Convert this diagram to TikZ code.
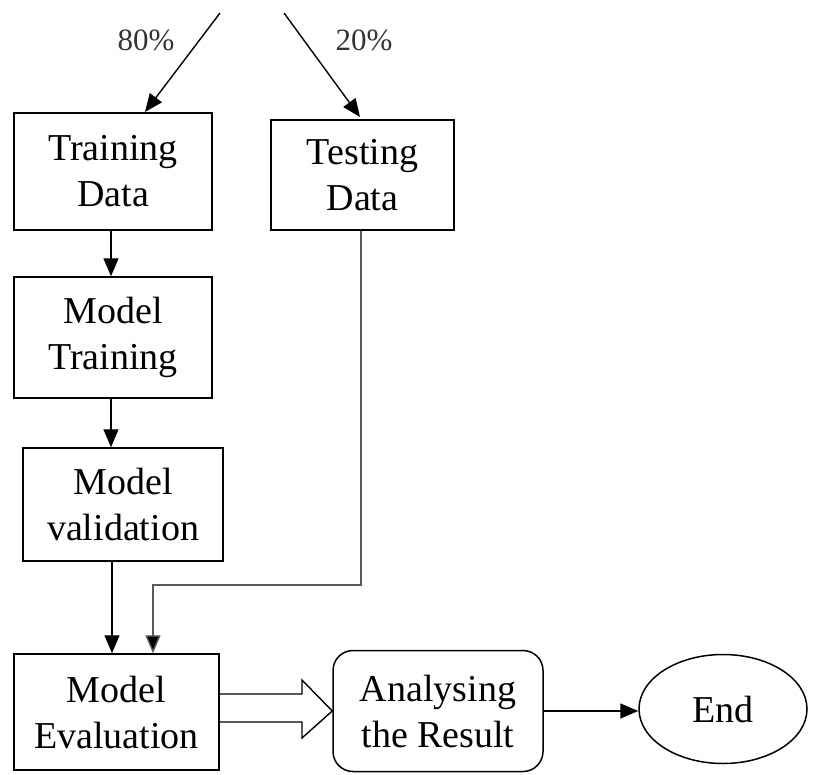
\documentclass[tikz,border=0pt]{standalone}
\usepackage{fontspec}
\setmainfont{Liberation Serif}
\usetikzlibrary{arrows.meta,calc,shapes.geometric}
\begin{document}
\begin{tikzpicture}[x=1pt,y=-1pt,
  box/.style={draw=black,line width=1.5pt,inner sep=0pt,align=center,
    font=\fontsize{38}{46}\selectfont},
  lbl/.style={font=\fontsize{31}{36}\selectfont,text=black!80},
  arr/.style={line width=1.4pt,-{Triangle[length=18pt,width=15pt]}},
  grayarr/.style={line width=1.4pt,draw=black!65,-{Triangle[length=18pt,width=15pt,fill=black]}}
]
\useasboundingbox (0,0) rectangle (814,774);
% boxes
\node[box,minimum width=198pt,minimum height=117pt] (train) at (113,171.5) {Training\\Data};
\node[box,minimum width=183pt,minimum height=110pt] (test) at (362.5,175) {Testing\\Data};
\node[box,minimum width=198pt,minimum height=121pt] (mtrain) at (113,337.5) {Model\\Training};
\node[box,minimum width=200pt,minimum height=113pt] (mval) at (123,504.5) {Model\\validation};
\node[box,minimum width=205pt,minimum height=116pt] (meval) at (116.5,712) {Model\\Evaluation};
\node[box,rounded corners=20pt,minimum width=210pt,minimum height=121pt] (anal) at (438,711) {Analysing\\the Result};
\node[box,ellipse,minimum width=168pt,minimum height=109pt] (end) at (723,709) {End};
% labels
\node[lbl] (p80) at (146,40) {80\%};
\node[lbl] (p20) at (364,40) {20\%};
% top split arrows
\coordinate (s1) at (220,13);
\coordinate (s2) at (284,13);
\coordinate (t1) at (145,112);
\coordinate (t2) at (360,117);
\draw[arr] (s1) -- (t1);
\draw[arr] (s2) -- (t2);
% vertical arrows
\draw[arr] (train.south -| 111,0) -- (mtrain.north -| 111,0);
\draw[arr] (mtrain.south -| 111,0) -- (mval.north -| 111,0);
\draw[arr] (mval.south -| 112,0) -- (meval.north -| 112,0);
% testing data path
\coordinate (c1) at (361,585);
\coordinate (c2) at (153,585);
\draw[grayarr] (test.south -| c1) -- (c1) -- (c2) -- (meval.north -| c2);
% hollow arrow
\draw[line width=1.4pt,line join=miter]
  (meval.east |- 0,694) -- (302,694) -- (302,680) -- (anal.west) -- (302,738) -- (302,722) -- (meval.east |- 0,722);
% to end
\draw[arr] (anal.east) -- (end.west |- anal.east);
\end{tikzpicture}
\end{document}
